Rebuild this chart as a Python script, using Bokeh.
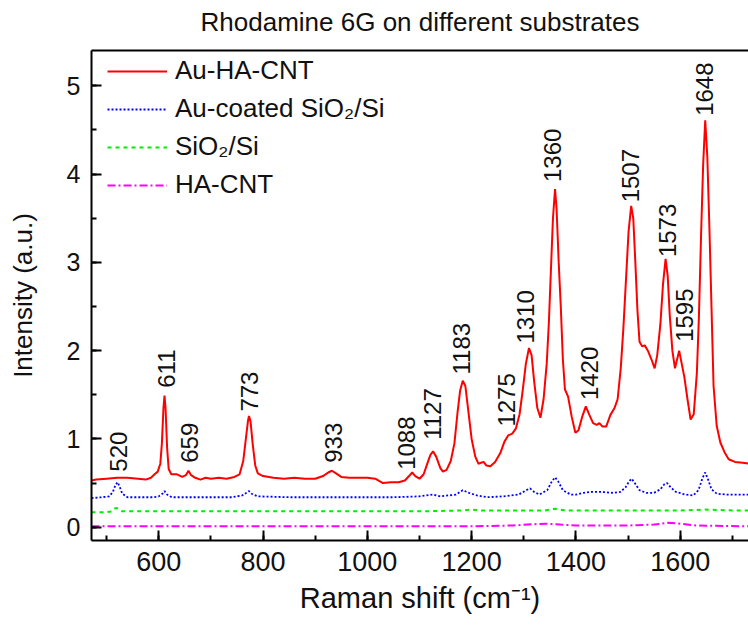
import math
from bokeh.plotting import figure
from bokeh.models import (Range1d, LinearAxis, SingleIntervalTicker, FixedTicker, Legend, LegendItem,
                          ColumnDataSource)
from bokeh.core.properties import value
from bokeh.embed import file_html
from bokeh.resources import INLINE

# ---------------- data ----------------
title_text = "Rhodamine 6G on different substrates"

au_ha_cnt_x = [471, 480, 500, 520, 540, 560, 575, 585, 592, 598, 603, 606, 609, 611, 613, 616, 619, 624,
               635, 645, 652, 657, 662, 670, 680, 690, 700, 715, 730, 745, 755, 762, 767, 771, 773, 776,
               780, 785, 790, 800, 820, 840, 860, 880, 900, 915, 925, 932, 940, 950, 965, 980, 1000, 1015,
               1030, 1045, 1060, 1072, 1080, 1086, 1092, 1100, 1108, 1115, 1121, 1126, 1132, 1140, 1145,
               1152, 1160, 1167, 1173, 1178, 1183, 1188, 1194, 1200, 1207, 1213, 1218, 1223, 1228, 1236,
               1245, 1255, 1263, 1270, 1278, 1285, 1292, 1298, 1304, 1310, 1315, 1320, 1326, 1332, 1338,
               1344, 1348, 1352, 1356, 1360, 1363, 1367, 1371, 1375, 1379, 1385, 1392, 1399, 1405, 1412,
               1419, 1426, 1433, 1440, 1445, 1451, 1458, 1466, 1474, 1480, 1486, 1491, 1496, 1501, 1506,
               1510, 1514, 1518, 1522, 1527, 1532, 1538, 1545, 1551, 1556, 1562, 1567, 1572, 1576, 1580,
               1585, 1590, 1594, 1598, 1603, 1608, 1614, 1620, 1626, 1632, 1636, 1640, 1644, 1648, 1652,
               1656, 1660, 1664, 1670, 1677, 1685, 1693, 1705, 1720, 1731]
au_ha_cnt_y = [0.53, 0.54, 0.55, 0.56, 0.56, 0.55, 0.54, 0.56, 0.60, 0.63, 0.72, 0.95, 1.35, 1.49, 1.35, 0.90,
               0.66, 0.60, 0.60, 0.57, 0.59, 0.64, 0.59, 0.56, 0.54, 0.56, 0.55, 0.56, 0.55, 0.57, 0.60, 0.75,
               1.00, 1.20, 1.26, 1.20, 0.95, 0.70, 0.61, 0.58, 0.56, 0.55, 0.56, 0.55, 0.55, 0.58, 0.62, 0.64,
               0.61, 0.57, 0.56, 0.56, 0.56, 0.55, 0.50, 0.51, 0.51, 0.53, 0.58, 0.62, 0.58, 0.55, 0.60, 0.72,
               0.82, 0.86, 0.80, 0.67, 0.63, 0.65, 0.75, 0.95, 1.30, 1.55, 1.66, 1.60, 1.30, 1.00, 0.80, 0.72,
               0.73, 0.74, 0.70, 0.69, 0.74, 0.84, 0.97, 1.04, 1.06, 1.12, 1.28, 1.55, 1.85, 2.03, 1.95, 1.65,
               1.35, 1.24, 1.45, 1.85, 2.30, 2.90, 3.50, 3.83, 3.60, 3.00, 2.50, 1.90, 1.56, 1.48, 1.25, 1.07,
               1.10, 1.25, 1.37, 1.27, 1.18, 1.16, 1.18, 1.14, 1.14, 1.27, 1.35, 1.45, 1.80, 2.25, 2.80, 3.35,
               3.64, 3.50, 3.00, 2.46, 2.10, 2.05, 2.06, 2.00, 1.90, 1.80, 1.95, 2.30, 2.75, 3.04, 2.85, 2.40,
               2.00, 1.80, 1.90, 2.00, 1.85, 1.70, 1.45, 1.22, 1.28, 1.75, 2.40, 3.30, 4.10, 4.61, 4.20, 3.40,
               2.50, 1.60, 1.15, 0.96, 0.85, 0.77, 0.74, 0.73, 0.72]

au_sio2_x = [471, 490, 505, 512, 517, 521, 525, 530, 540, 560, 590, 600, 607, 611, 616, 625, 680, 740, 760,
             768, 773, 778, 790, 850, 950, 1050, 1100, 1125, 1140, 1170, 1183, 1195, 1210, 1230, 1260, 1290,
             1305, 1312, 1320, 1330, 1345, 1354, 1360, 1366, 1375, 1390, 1400, 1415, 1430, 1450, 1470, 1485,
             1495, 1502, 1507, 1513, 1522, 1535, 1550, 1562, 1570, 1575, 1582, 1592, 1610, 1625, 1635, 1643,
             1648, 1653, 1660, 1670, 1690, 1731]
au_sio2_y = [0.33, 0.34, 0.35, 0.40, 0.48, 0.51, 0.46, 0.38, 0.34, 0.34, 0.34, 0.35, 0.38, 0.41, 0.37, 0.34,
             0.34, 0.34, 0.36, 0.39, 0.41, 0.38, 0.35, 0.34, 0.34, 0.34, 0.35, 0.37, 0.35, 0.37, 0.42, 0.39,
             0.36, 0.34, 0.35, 0.37, 0.42, 0.44, 0.40, 0.37, 0.42, 0.52, 0.565, 0.52, 0.42, 0.37, 0.37, 0.39,
             0.40, 0.40, 0.39, 0.40, 0.45, 0.52, 0.55, 0.50, 0.42, 0.39, 0.39, 0.43, 0.49, 0.50, 0.45, 0.40,
             0.37, 0.36, 0.42, 0.56, 0.62, 0.55, 0.43, 0.38, 0.37, 0.37]

sio2_x = [471, 500, 510, 515, 519, 524, 530, 560, 650, 700, 800, 900, 1000, 1100, 1180, 1200, 1220, 1300,
          1340, 1360, 1380, 1450, 1550, 1600, 1648, 1700, 1731]
sio2_y = [0.17, 0.17, 0.18, 0.21, 0.22, 0.20, 0.18, 0.18, 0.18, 0.18, 0.18, 0.18, 0.18, 0.18, 0.19, 0.20,
          0.19, 0.19, 0.19, 0.21, 0.19, 0.19, 0.19, 0.19, 0.20, 0.19, 0.19]

ha_cnt_x = [471, 600, 800, 1000, 1200, 1280, 1320, 1345, 1370, 1400, 1500, 1550, 1577, 1600, 1630, 1731]
ha_cnt_y = [0.01, 0.01, 0.01, 0.01, 0.01, 0.02, 0.035, 0.04, 0.03, 0.02, 0.02, 0.03, 0.05, 0.04, 0.02, 0.01]

peak_labels = ["520", "611", "659", "773", "933", "1088", "1127", "1183",
               "1275", "1310", "1360", "1420", "1507", "1573", "1595", "1648"]
peak_label_x = [523, 615, 659, 774, 935, 1075, 1125, 1181, 1266, 1304, 1355, 1426, 1505, 1576, 1608, 1646]
peak_label_y = [0.63, 1.58, 0.73, 1.31, 0.73, 0.65, 0.99, 1.73, 1.14, 2.08, 3.91, 1.44, 3.68, 3.06, 2.10, 4.66]

x_min, x_max = 471, 1731
y_min, y_max = -0.15, 5.40

FONT = "Liberation Sans"

# ---------------- figure ----------------
p = figure(width=748, height=628, output_backend="svg", toolbar_location=None,
           x_range=Range1d(x_min, x_max), y_range=Range1d(y_min, y_max),
           min_border_left=91, min_border_right=0, min_border_top=50, min_border_bottom=88)
p.outline_line_color = None
p.xgrid.visible = False
p.ygrid.visible = False
p.background_fill_color = "white"
p.border_fill_color = "white"

r_red = p.line(au_ha_cnt_x, au_ha_cnt_y, line_color="#ff0000", line_width=2)
r_blue = p.line(au_sio2_x, au_sio2_y, line_color="#0000ff", line_width=1.8, line_dash="2 2")
r_green = p.line(sio2_x, sio2_y, line_color="#00ee00", line_width=2, line_dash="4 4")
r_mag = p.line(ha_cnt_x, ha_cnt_y, line_color="#ff00ff", line_width=2, line_dash="8 3 2 3")

src = ColumnDataSource(dict(x=peak_label_x, y=peak_label_y, t=peak_labels))
p.text(x="x", y="y", text="t", source=src, angle=math.pi / 2, text_align="left",
       text_baseline="middle", text_font=value(FONT), text_font_size="24px", text_color="#111111")

for ax in (p.xaxis[0], p.yaxis[0]):
    ax.axis_line_width = 2
    ax.axis_line_color = "black"
    ax.major_tick_line_width = 2
    ax.minor_tick_line_width = 2
    ax.major_tick_in = 10
    ax.major_tick_out = 0
    ax.minor_tick_in = 5
    ax.minor_tick_out = 0
    ax.major_label_text_font = FONT
    ax.major_label_text_color = "#111111"
    ax.axis_label_text_font = FONT
    ax.axis_label_text_font_style = "normal"
    ax.axis_label_text_color = "#111111"
    ax.major_label_standoff = 11

p.xaxis[0].major_label_text_font_size = "27px"
p.yaxis[0].major_label_text_font_size = "25px"
p.xaxis[0].ticker = SingleIntervalTicker(interval=200, num_minor_ticks=2)
p.yaxis[0].ticker = SingleIntervalTicker(interval=1, num_minor_ticks=2)
p.xaxis[0].axis_label = "Raman shift (cm⁻¹)"
p.yaxis[0].axis_label = "Intensity (a.u.)"
p.xaxis[0].axis_label_text_font_size = "29px"
p.yaxis[0].axis_label_text_font_size = "26px"
p.xaxis[0].axis_label_standoff = 8
p.yaxis[0].axis_label_standoff = 26

# top frame line with the chart title above it (right side of the frame is cut off)
top = LinearAxis(ticker=FixedTicker(ticks=[]), major_tick_in=0, major_tick_out=0,
                 minor_tick_in=0, minor_tick_out=0, major_label_standoff=0,
                 axis_line_width=2, axis_line_color="black",
                 axis_label=title_text, axis_label_standoff=14,
                 axis_label_text_font=FONT, axis_label_text_font_size="26px",
                 axis_label_text_font_style="normal", axis_label_text_color="#111111")
p.add_layout(top, "above")

legend = Legend(items=[
    LegendItem(label="Au-HA-CNT", renderers=[r_red]),
    LegendItem(label="Au-coated SiO₂/Si", renderers=[r_blue]),
    LegendItem(label="SiO₂/Si", renderers=[r_green]),
    LegendItem(label="HA-CNT", renderers=[r_mag]),
], location=(16, 340))
legend.label_text_font = FONT
legend.label_text_font_size = "26px"
legend.label_text_color = "#111111"
legend.glyph_width = 60
legend.label_standoff = 8
legend.spacing = 7
legend.margin = 0
legend.padding = 5
legend.border_line_color = None
legend.background_fill_alpha = 0
p.add_layout(legend)

open("out.html", "w").write(file_html(p, INLINE))
